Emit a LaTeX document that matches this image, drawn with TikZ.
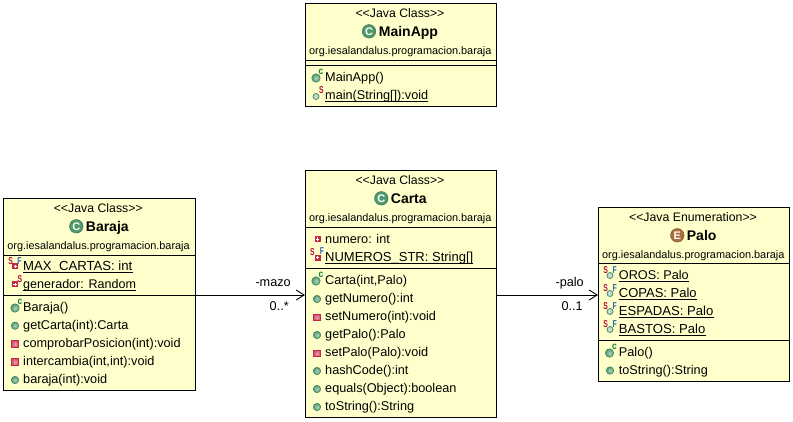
\documentclass[tikz,border=0pt]{standalone}
\usepackage{graphicx}
\usepackage{fontspec}
\setmainfont{Liberation Sans}
\usetikzlibrary{arrows.meta}
\definecolor{boxfill}{HTML}{FFFFCC}
\definecolor{grn}{HTML}{4E9A6C}
\definecolor{grnd}{HTML}{3B8058}
\definecolor{redd}{HTML}{C82848}
\definecolor{brn}{HTML}{A8703C}
\definecolor{letS}{HTML}{B80A3C}
\definecolor{letF}{HTML}{2A62B0}
\definecolor{letc}{HTML}{12803C}
\newcounter{ic}
\tikzset{
  umlbox/.style={draw=black,line width=1,fill=boxfill,anchor=north west,inner sep=0,rectangle},
  ster/.style={anchor=base,inner sep=0,font=\fontsize{12.3}{14}\selectfont},
  cname/.style={anchor=base west,inner sep=0,font=\fontsize{14}{16}\selectfont\bfseries},
  pkg/.style={anchor=base,inner sep=0,font=\fontsize{10.9}{13}\selectfont},
  member/.style={anchor=base west,inner sep=0,font=\fontsize{12.7}{14}\selectfont},
  assoc/.style={anchor=base east,inner sep=0,font=\fontsize{12.7}{14}\selectfont},
  sepline/.style={line width=1,black},
  ulline/.style={line width=.9,black},
  link/.style={line width=1,black,-{Straight Barb[length=8pt,width=10pt,line width=.9pt]}},
  pubdot/.style={circle,inner sep=0,minimum size=7.5,draw=grnd,line width=.5,inner color=grn!45!white,outer color=grn},
  ctordot/.style={circle,inner sep=0,minimum size=8.5,draw=grnd,line width=.5,inner color=grn!45!white,outer color=grn},
  smalldot/.style={circle,inner sep=0,minimum size=6,draw=grnd,line width=.7,fill=grn!35!white},
  privsq/.style={rectangle,inner sep=0,minimum size=6.5,draw=redd,line width=.7,inner color=redd!45!white,outer color=redd!80!white},
  privfd/.style={rectangle,inner sep=0,minimum size=6,fill=redd,path picture={
      \draw[white,line width=1] (path picture bounding box.center) +(-1.6,0) -- +(1.6,0)
        (path picture bounding box.center) +(0,-1.6) -- +(0,1.6);}},
  typeic/.style={circle,inner sep=0,minimum size=13.5,text=white,font=\fontsize{11}{12}\selectfont\bfseries},
  lett/.style={inner sep=0,font=\fontsize{10}{10}\selectfont\bfseries},
}
\newcommand{\pubI}[2]{\stepcounter{ic}\node[pubdot] (ic\theic) at (#1,#2) {};}
\newcommand{\ctorI}[2]{\stepcounter{ic}\node[ctordot] (ic\theic) at (#1,#2) {};}
\newcommand{\smallI}[2]{\stepcounter{ic}\node[smalldot] (ic\theic) at (#1,#2) {};}
\newcommand{\privI}[2]{\stepcounter{ic}\node[privsq] (ic\theic) at (#1,#2) {};}
\newcommand{\privF}[2]{\stepcounter{ic}\node[privfd] (ic\theic) at (#1,#2) {};}
\newcommand{\letS}[2]{\stepcounter{ic}\node[lett,text=letS] (ic\theic) at (#1,#2) {\scalebox{.68}[1]{S}};}
\newcommand{\letF}[2]{\stepcounter{ic}\node[lett,text=letF] (ic\theic) at (#1,#2) {\scalebox{.68}[1]{F}};}
\newcommand{\letc}[2]{\stepcounter{ic}\node[lett,text=letc] (ic\theic) at (#1,#2) {\scalebox{.85}[1]{c}};}
\newcommand{\fs}[2]{{\fontsize{#1}{14}\selectfont #2}}
% member text: x, centre y, text
\newcommand{\mem}[3]{\stepcounter{ic}\node[member] (ic\theic) at (#1,#2+4.5) {#3};}
\newcommand{\umem}[3]{\stepcounter{ic}\node[member] (ic\theic) at (#1,#2+4.5) {#3};
  \draw[ulline] ([yshift=-2.3pt]ic\theic.base west) -- ([yshift=-2.3pt]ic\theic.base east);}
% header: box name, stereotype, top y, icon x, name x, type text, icon letter, icon colour
\newcommand{\header}[8]{
  \node[ster,xshift=-1pt] (#1ster) at (#1.north |- 0,#3+14) {<{}<#2>{}>};
  \node[typeic,fill=#8,draw=#8!75!black,line width=.5] (#1icon) at (#4,#3+28.3) {#7};
  \node[cname] (#1name) at (#5,#3+33) {#6};
  \node[pkg,xshift=-.7pt] (#1pkg) at (#1.north |- 0,#3+51) {org.iesalandalus.programacion.baraja};
}
\newcommand{\sep}[2]{\draw[sepline] (#1.west |- 0,#2) -- (#1.east |- 0,#2);}
\begin{document}
\begin{tikzpicture}[x=1pt,y=-1pt]
\useasboundingbox[fill=white] (0,0) rectangle (793,421);

% MainApp
\node[umlbox,minimum width=191,minimum height=103] (mainapp) at (305,3) {};
\header{mainapp}{Java Class}{3}{369}{378.7}{MainApp}{C}{grn}
\sep{mainapp}{60}\sep{mainapp}{65}
\ctorI{316}{78}\letc{321}{72}\mem{325}{76.7}{MainApp()}
\smallI{316}{96.5}\letS{321.5}{90.5}\umem{325}{94.7}{main(String[]):void}

% Baraja
\node[umlbox,minimum width=191.5,minimum height=192] (baraja) at (3,198) {};
\header{baraja}{Java Class}{198}{76.3}{85.7}{Baraja}{C}{grn}
\sep{baraja}{255}\sep{baraja}{295}
\letS{10.7}{261.5}\privF{15.3}{266.3}\letF{19.5}{261}\umem{23}{266}{\fs{13.15}{MAX\_CARTAS: int}}
\privF{15}{284.3}\letS{20}{279.5}\umem{23}{284}{\fs{12.55}{generador: Random}}
\ctorI{15}{308}\letc{20}{301.5}\mem{23}{307}{Baraja()}
\pubI{15}{325.7}\mem{23}{325}{getCarta(int):Carta}
\privI{15}{344}\mem{23}{343}{comprobarPosicion(int):void}
\privI{15}{362}\mem{23}{361}{intercambia(int,int):void}
\pubI{15}{380}\mem{23}{379}{baraja(int):void}

% Carta
\node[umlbox,minimum width=191,minimum height=247] (carta) at (305,170) {};
\header{carta}{Java Class}{170}{381.3}{390.7}{Carta}{C}{grn}
\sep{carta}{227}\sep{carta}{268}
\privF{317.7}{239}\mem{325}{239}{numero: int}
\letS{312.5}{252}\privF{317.7}{257.5}\letF{322}{251.5}\umem{325}{257}{\fs{13}{NUMEROS\_STR: String[]}}
\ctorI{316}{281}\letc{321}{274.5}\mem{325}{280}{Carta(int,Palo)}
\pubI{317}{299}\mem{325}{298.3}{getNumero():int}
\privI{317}{317.5}\mem{325}{316}{setNumero(int):void}
\pubI{317}{335}\mem{325}{334}{getPalo():Palo}
\privI{317}{353.5}\mem{325}{352}{setPalo(Palo):void}
\pubI{317}{371}\mem{325}{370}{hashCode():int}
\pubI{317}{389}\mem{325}{388}{equals(Object):boolean}
\pubI{317}{407}\mem{325}{406}{toString():String}

% Palo
\node[umlbox,minimum width=191,minimum height=174] (palo) at (598,207) {};
\header{palo}{Java Enumeration}{207}{677.3}{686.7}{Palo}{E}{brn}
\sep{palo}{263}\sep{palo}{340}
\letS{605.7}{270.5}\smallI{610}{275.5}\letF{614.7}{270}\umem{618.7}{274.7}{OROS: Palo}
\letS{605.7}{288.5}\smallI{610}{293.5}\letF{614.7}{288}\umem{618.7}{293}{\fs{13}{COPAS: Palo}}
\letS{605.7}{306.5}\smallI{610}{311.5}\letF{614.7}{306}\umem{618.7}{311}{\fs{13.1}{ESPADAS: Palo}}
\letS{605.7}{324.5}\smallI{610}{329.5}\letF{614.7}{324}\umem{618.7}{329}{\fs{13.1}{BASTOS: Palo}}
\ctorI{609.5}{353}\letc{614.5}{346.5}\mem{618.7}{351.7}{Palo()}
\pubI{610}{370.5}\mem{618.7}{370}{toString():String}

% Associations
\coordinate (mazoS) at (baraja.east |- 0,295);
\coordinate (mazoT) at (carta.west |- 0,295);
\coordinate (paloS) at (carta.east |- 0,295);
\coordinate (paloT) at (palo.west |- 0,295);
\draw[link] (mazoS) -- (mazoT);
\draw[link] (paloS) -- (paloT);
\node[assoc] (mazoR) at (291,286.5) {-mazo};
\node[assoc] (mazoM) at (289,310) {0..*};
\node[assoc] (paloR) at (584,286.5) {-palo};
\node[assoc] (paloM) at (583,310) {0..1};
\end{tikzpicture}
\end{document}
